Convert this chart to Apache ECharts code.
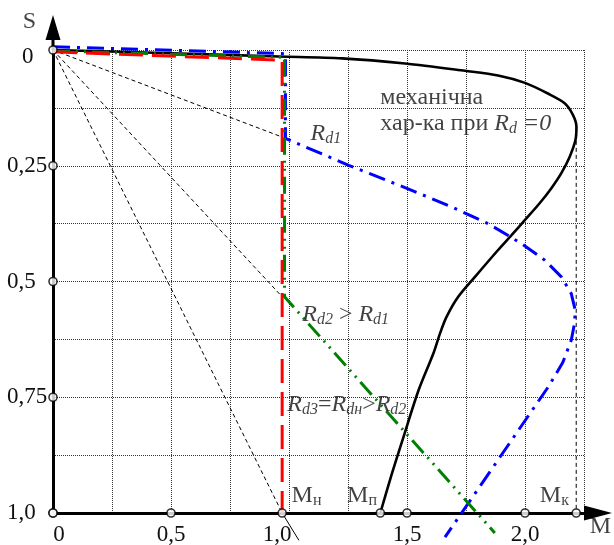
<!DOCTYPE html>
<html><head><meta charset="utf-8">
<script src="https://cdn.jsdelivr.net/npm/echarts@6/dist/echarts.min.js"></script>
<style>html,body{margin:0;padding:0;background:#fff}#c{width:614px;height:545px}</style>
</head><body><div id="c"></div>
<script>
// ---- data (M, S) ----
const naturalCurve = [[0,0],[0.5,0.007],[0.957,0.014],[1.225,0.018],[1.492,0.029],[1.746,0.045],[1.886,0.055],[2.0,0.071],[2.097,0.094],[2.168,0.115],[2.203,0.14],[2.218,0.166],[2.214,0.194],[2.189,0.231],[2.154,0.266],[2.111,0.299],[2.062,0.331],[2.0,0.367],[1.943,0.40],[1.886,0.432],[1.788,0.49],[1.717,0.533],[1.668,0.576],[1.64,0.612],[1.612,0.655],[1.549,0.735],[1.485,0.836],[1.436,0.915],[1.387,1.0]];
const rd1Curve = [[0,-0.007],[0.985,0.008],[0.985,0.191],[1.253,0.249],[1.52,0.303],[1.689,0.339],[1.844,0.375],[1.985,0.418],[2.084,0.454],[2.154,0.49],[2.196,0.526],[2.213,0.562],[2.21,0.59],[2.196,0.627],[2.16,0.675],[2.098,0.728],[1.661,1.052]];
const rd2Curve = [[0,0.002],[0.981,0.016],[0.981,0.533],[1.872,1.043]];
const rd3Curve = [[0,0.004],[0.971,0.022],[0.971,1.0]];
const rayToRd1 = [[0,0],[0.971,0.188]];
const rayToRd2 = [[0,0],[0.971,0.533]];
const rayToMn = [[0,0],[0.971,1.0]];
const rayExtension = [[0.971,1.0],[1.042,1.059]];
const mkDrop = [[2.217,0.166],[2.217,1.0]];
const xTickCircles = [[0,1],[0.5,1],[0.971,1],[1.387,1],[1.5,1],[2.0,1],[2.217,1]];
const yTickCircles = [[0,0],[0,0.25],[0,0.5],[0,0.75],[0,1]];
const xLabelValues = [0,0.5,1,1.5,2];
const xLabelTexts = ['{z|0}','0,5','{o|1,0}','1,5','2,0'];
const yLabelValues = [0,0.25,0.5,0.75,1];
const yLabelTexts = ['{z|0}','0,25','0,5','0,75','1,0'];
const annotations = [
  [1.387,0.103,'механічна'],
  [1.387,0.159,'хар-ка при {i|R}{s|d} {i|=0}'],
  [1.091,0.18,'{i|R}{s|d1}'],
  [1.056,0.571,'{i|R}{s|d2} > {i|R}{s|d1}'],
  [0.993,0.767,'{i|R}{s|d3}={i|R}{s|dн}>{i|R}{s|d2}'],
  [1.011,0.962,'М{u|н}'],
  [1.246,0.962,'М{u|п}'],
  [2.063,0.962,'М{u|к}'],
  [-0.128,-0.062,'S'],
  [2.274,1.03,'M']
];

const FONT = 'Liberation Serif';
function pick(values, texts, v){
  for (let i=0;i<values.length;i++) if (Math.abs(values[i]-v)<1e-6) return texts[i];
  return '';
}
const chart = echarts.init(document.getElementById('c'), null, {renderer:'canvas'});
const richText = {
  i:{fontFamily:FONT, fontSize:24, fontStyle:'italic', color:'#111', lineHeight:26},
  s:{fontFamily:FONT, fontSize:16, fontStyle:'italic', color:'#111', lineHeight:16, verticalAlign:'bottom'},
  u:{fontFamily:FONT, fontSize:16, color:'#111', lineHeight:16, verticalAlign:'bottom'}
};
function lineSeries(data, color, width, type, z){
  return {type:'line', data, symbol:'none', clip:false, z,
    lineStyle:{color, width, type}, animation:false};
}
chart.setOption({
  animation:false,
  grid:{left:53, right:30, top:50, bottom:32, outerBoundsMode:'none', containLabel:false},
  xAxis:{type:'value', min:0, max:2.25, interval:0.25, position:'bottom',
    axisLine:{onZero:false, lineStyle:{color:'#000', width:3},
      symbol:['none','path://M7.5,0L15,28L0,28Z'], symbolSize:[15,28], symbolOffset:[0,14]},
    axisTick:{show:false},
    splitLine:{show:true, lineStyle:{color:'#333', width:1, type:[1,1]}},
    axisLabel:{fontFamily:FONT, fontSize:23, color:'#111', margin:10, showMaxLabel:true,
      formatter:v=>pick(xLabelValues,xLabelTexts,v),
      rich:{z:{fontFamily:FONT,fontSize:23,color:'#111',padding:[0,0,0,12]},
            o:{fontFamily:FONT,fontSize:23,color:'#111',padding:[0,24,0,0]}}}
  },
  yAxis:{type:'value', min:0, max:1, interval:0.125, inverse:true,
    axisLine:{onZero:false, lineStyle:{color:'#000', width:3},
      symbol:['none','path://M7.5,0L15,25L9,25L9,35L6,35L6,25L0,25Z'], symbolSize:[15,35], symbolOffset:[0,17.5]},
    axisTick:{show:false},
    splitLine:{show:true, lineStyle:{color:'#333', width:1, type:[1,1]}},
    axisLabel:{fontFamily:FONT, fontSize:23, color:'#111', align:'left', margin:46,
      formatter:v=>pick(yLabelValues,yLabelTexts,v),
      rich:{z:{fontFamily:FONT,fontSize:23,color:'#111',padding:[14,0,0,15]}}}
  },
  series:[
    lineSeries(rayToRd1,'#000',1,[4,3],2),
    lineSeries(rayToRd2,'#000',1,[4,3],2),
    lineSeries(rayToMn,'#000',1,[4,3],2),
    lineSeries(rayExtension,'#000',1,'solid',2),
    lineSeries(mkDrop,'#000',1,[4,3],2),
    Object.assign(lineSeries(naturalCurve,'#000',2.6,'solid',3),{smooth:0.3}),
    lineSeries(rd1Curve,'#0000ff',3,[17,7,3,7],4),
    lineSeries(rd2Curve,'#008000',3,[17,6,2,6,2,6],5),
    lineSeries(rd3Curve,'#ff0000',3,[24,9],6),
    {type:'scatter', data:xTickCircles.concat(yTickCircles), symbol:'circle', symbolSize:8, clip:false, z:10,
      itemStyle:{color:'#fff', borderColor:'#000', borderWidth:1.6}, animation:false},
    {type:'scatter', clip:false, z:11, symbolSize:0, animation:false,
      data:annotations.map(a=>({value:[a[0],a[1]], label:{formatter:a[2]}})),
      label:{show:true, position:'right', distance:0, fontFamily:FONT, fontSize:24, color:'#111', lineHeight:26, rich:richText}}
  ]
});
</script></body></html>
